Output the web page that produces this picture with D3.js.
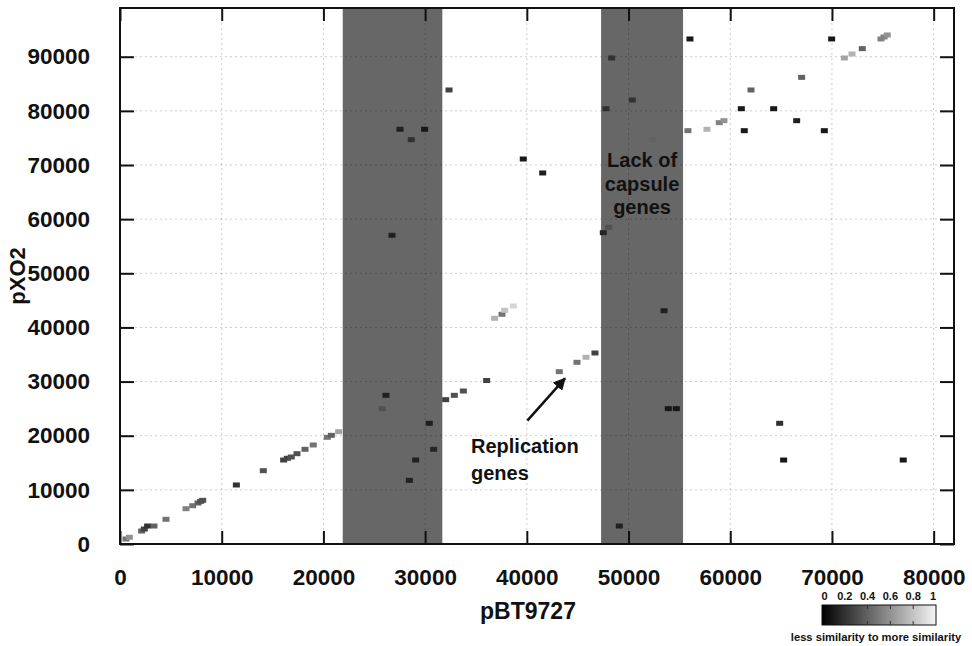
<!DOCTYPE html>
<html lang="en">
<head>
<meta charset="utf-8">
<title>pBT9727 vs pXO2</title>
<script src="https://d3js.org/d3.v7.min.js"></script>
<style>
  body{margin:0;background:#fff;font-family:"Liberation Sans",Arial,Helvetica,sans-serif;}
  text{font-weight:bold;fill:#111;}
</style>
</head>
<body>
<div id="chart"></div>
<script>
// matches: position on pBT9727, position on pXO2, similarity 0..1
var posBT = [590,920,2130,2390,2720,3340,4520,6490,7150,7670,7930,8130,11440,14090,16090,16450,16840,17400,18190,19000,
  20380,20780,21500,25790,26150,26740,27530,28450,28640,29070,29950,30410,30840,32020,32350,32870,33760,36050,36840,37560,
  37820,38670,39650,41560,43190,44930,45820,46700,47520,48050,47780,48340,49090,50370,52340,53490,53910,54700,55840,56040,
  57710,58920,59380,61090,61380,62040,64270,64860,65250,66530,67020,69250,69970,71220,71970,72980,74820,75120,75440,77010]
var posXO = [920,1240,2400,2770,3320,3320,4560,6520,7070,7570,7880,8070,10900,13540,15510,15830,16070,16680,17490,18290,
  19710,20070,20740,25000,27460,57020,76600,11760,74680,15510,76600,22290,17490,26660,83860,27460,28260,30200,41690,42430,
  43170,43960,71110,68530,31830,33560,34490,35280,57500,58500,80400,89770,3320,82010,74680,43090,25000,25000,76340,93280,
  76600,77820,78190,80400,76340,83860,80400,22290,15510,78190,86190,76340,93280,89770,90510,91490,93280,93650,94020,15510]
var sim = [0.47,0.6,0.4,0.27,0.2,0.4,0.47,0.53,0.47,0.4,0.33,0.33,0.2,0.33,0.27,0.27,0.33,0.33,0.4,0.47,
  0.47,0.4,0.67,0.33,0.13,0.13,0.13,0.13,0.2,0.13,0.1,0.13,0.15,0.27,0.27,0.33,0.33,0.27,0.73,0.47,
  0.8,0.87,0.1,0.13,0.47,0.47,0.73,0.27,0.15,0.33,0.2,0.2,0.13,0.2,0.4,0.13,0.1,0.1,0.47,0.1,
  0.73,0.53,0.6,0.1,0.1,0.4,0.1,0.2,0.1,0.13,0.4,0.1,0.1,0.67,0.73,0.4,0.53,0.53,0.6,0.1]

// shaded regions on pBT9727
var bandStart = [21900,47300]
var bandEnd = [31690,55360]

var xTicks = [0,10000,20000,30000,40000,50000,60000,70000,80000]
var yTicks = [0,10000,20000,30000,40000,50000,60000,70000,80000,90000]
var simTicks = [0,0.2,0.4,0.6,0.8,1]
var simTickLabels = ["0","0.2","0.4","0.6","0.8","1"]

drawChart()

function drawChart(){
  var w = 972, h = 646
  var pl = 120, pr = 954, pt = 8, pb = 544

  var xScale = d3.scaleLinear().domain([0,82000]).range([pl,pr])
  var yScale = d3.scaleLinear().domain([0,99000]).range([pb,pt])
  var cScale = d3.scaleLinear().domain([0,1]).range(["#000000","#f4f4f4"])

  var svg = d3.select("#chart").append("svg").attr("width",w).attr("height",h)
  var defs = svg.append("defs")

  // bands
  svg.selectAll("rect.band")
    .data(bandStart)
    .enter().append("rect")
    .attr("class","band")
    .attr("x",function(d){ return xScale(d) })
    .attr("y",pt)
    .attr("width",function(d,i){ return xScale(bandEnd[i]) - xScale(d) })
    .attr("height",pb-pt)
    .attr("fill","#676767")

  // grid
  svg.selectAll("line.gx")
    .data(xTicks.slice(1))
    .enter().append("line").attr("class","gx")
    .attr("x1",function(d){ return xScale(d) }).attr("x2",function(d){ return xScale(d) })
    .attr("y1",pt).attr("y2",pb)
    .attr("stroke","#000").attr("stroke-opacity",0.2).attr("stroke-dasharray","2,3")
  svg.selectAll("line.gy")
    .data(yTicks.slice(1))
    .enter().append("line").attr("class","gy")
    .attr("y1",function(d){ return yScale(d) }).attr("y2",function(d){ return yScale(d) })
    .attr("x1",pl).attr("x2",pr)
    .attr("stroke","#000").attr("stroke-opacity",0.2).attr("stroke-dasharray","2,3")

  // points
  svg.selectAll("rect.pt")
    .data(posBT)
    .enter().append("rect")
    .attr("class","pt")
    .attr("x",function(d){ return xScale(d) - 3.5 })
    .attr("y",function(d,i){ return yScale(posXO[i]) - 2.5 })
    .attr("width",7)
    .attr("height",5)
    .attr("fill",function(d,i){ return cScale(sim[i]) })

  // axes: ticks drawn inward on all four sides
  var xAxisB = d3.axisBottom(xScale).tickValues(xTicks).tickSize(-13).tickPadding(25).tickFormat(d3.format("d"))
  var xAxisT = d3.axisTop(xScale).tickValues(xTicks).tickSize(-13).tickFormat("")
  var yAxisL = d3.axisLeft(yScale).tickValues(yTicks).tickSize(-14).tickPadding(30).tickFormat(d3.format("d"))
  var yAxisR = d3.axisRight(yScale).tickValues(yTicks).tickSize(-14).tickFormat("")

  function styleAxis(g){
    g.select(".domain").remove()
    g.selectAll(".tick line").attr("stroke","#111").attr("stroke-width",2)
    g.selectAll(".tick text").attr("font-size",22.5).attr("font-family","Liberation Sans, Arial, sans-serif").attr("font-weight","bold").attr("fill","#111")
  }
  svg.append("g").attr("transform","translate(0,"+pb+")").call(xAxisB).call(styleAxis)
  svg.append("g").attr("transform","translate(0,"+pt+")").call(xAxisT).call(styleAxis)
  svg.append("g").attr("transform","translate("+pl+",0)").call(yAxisL).call(styleAxis)
  svg.append("g").attr("transform","translate("+pr+",0)").call(yAxisR).call(styleAxis)

  svg.append("rect")
    .attr("x",pl).attr("y",pt).attr("width",pr-pl).attr("height",pb-pt)
    .attr("fill","none").attr("stroke","#111").attr("stroke-width",2)

  // axis titles
  svg.append("text").attr("x",528).attr("y",619).attr("text-anchor","middle").attr("font-size",23).text("pBT9727")
  svg.append("text").attr("transform","translate(25,276) rotate(-90)").attr("text-anchor","middle").attr("font-size",22).text("pXO2")

  // annotations
  var capsule = svg.append("text").attr("text-anchor","middle").attr("font-size",20)
  capsule.selectAll("tspan").data(["Lack of","capsule","genes"]).enter().append("tspan")
    .attr("x",xScale((bandStart[1]+bandEnd[1])/2))
    .attr("y",function(d,i){ return 167 + i*23.5 })
    .text(function(d){ return d })

  var rep = svg.append("text").attr("font-size",20)
  rep.selectAll("tspan").data(["Replication","genes"]).enter().append("tspan")
    .attr("x",471)
    .attr("y",function(d,i){ return 453 + i*27 })
    .text(function(d){ return d })

  defs.append("marker")
    .attr("id","head").attr("viewBox","0 0 10 10").attr("refX",9).attr("refY",5)
    .attr("markerWidth",5).attr("markerHeight",5).attr("orient","auto")
    .append("path").attr("d","M0,0L10,5L0,10z").attr("fill","#111")
  svg.append("line")
    .attr("x1",xScale(40050)).attr("y1",yScale(22780))
    .attr("x2",xScale(43750)).attr("y2",yScale(30600))
    .attr("stroke","#111").attr("stroke-width",2.5).attr("marker-end","url(#head)")

  // colour bar
  var cbX = d3.scaleLinear().domain([0,1]).range([822,936])
  var grad = defs.append("linearGradient").attr("id","grey")
  grad.selectAll("stop").data(simTicks).enter().append("stop")
    .attr("offset",function(d){ return d*100 + "%" })
    .attr("stop-color",function(d){ return cScale(d) })
  svg.append("rect").attr("x",cbX(0)).attr("y",605).attr("width",cbX(1)-cbX(0)).attr("height",20)
    .attr("fill","url(#grey)").attr("stroke","#111").attr("stroke-width",1)
  svg.selectAll("line.cbt").data(simTicks.slice(1,-1)).enter().append("line").attr("class","cbt")
    .attr("x1",function(d){ return cbX(d) }).attr("x2",function(d){ return cbX(d) })
    .attr("y1",605).attr("y2",609).attr("stroke","#333")
  svg.selectAll("line.cbb").data(simTicks.slice(1,-1)).enter().append("line").attr("class","cbb")
    .attr("x1",function(d){ return cbX(d) }).attr("x2",function(d){ return cbX(d) })
    .attr("y1",621).attr("y2",625).attr("stroke","#333")
  svg.selectAll("text.cbl").data(simTicks).enter().append("text").attr("class","cbl")
    .attr("x",function(d){ return cbX(d) + (d==0 ? 2.5 : d==1 ? -3 : 0) })
    .attr("y",600).attr("text-anchor","middle").attr("font-size",11)
    .text(function(d,i){ return simTickLabels[i] })
  svg.append("text").attr("x",876).attr("y",641).attr("text-anchor","middle").attr("font-size",11.2)
    .text("less similarity to more similarity")
}
</script>
</body>
</html>
